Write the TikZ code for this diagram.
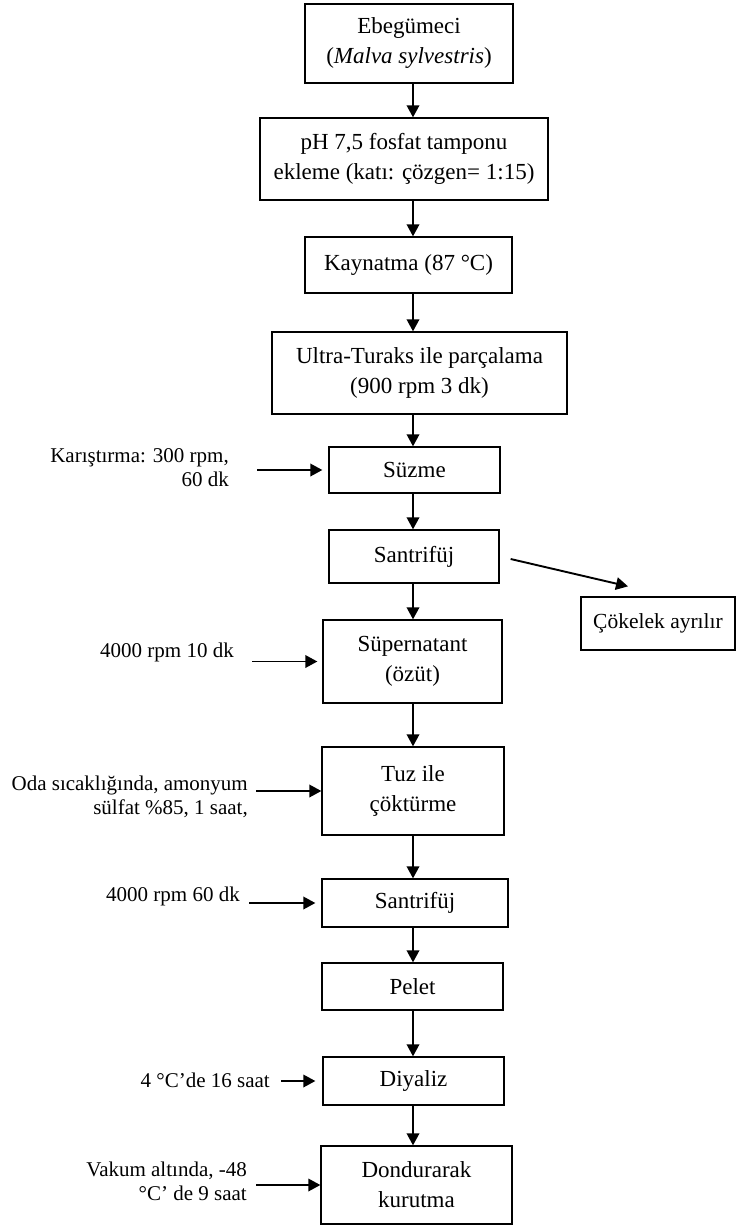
\documentclass[tikz,border=0pt]{standalone}
\usepackage{fontspec}
\setmainfont{Liberation Serif}
\usetikzlibrary{arrows.meta}
\begin{document}
\begin{tikzpicture}[x=1pt,y=-1pt,
  box/.style={draw,line width=1.3pt,align=center,inner sep=0pt,font=\fontsize{23}{30}\selectfont},
  lbl/.style={align=right,anchor=east,inner sep=0pt,font=\fontsize{21}{24}\selectfont},
  arr/.style={line width=1.9pt,-{Triangle[length=12pt,width=12.5pt]}}]
\useasboundingbox (0,0) rectangle (737,1225);

% main column boxes
\node[box,minimum width=208pt,minimum height=79pt] (ebe) at (409,43.5) {Ebegümeci\\(\textit{Malva sylvestris})};
\node[box,minimum width=288pt,minimum height=82pt] (ph) at (404,159) {pH 7,5 fosfat tamponu\\ekleme (katı: çözgen= 1:15)};
\node[box,minimum width=207pt,minimum height=56pt] (kay) at (408.5,265) {Kaynatma (87 °C)};
\node[box,minimum width=295pt,minimum height=82pt] (ultra) at (419.5,373) {Ultra-Turaks ile parçalama\\(900 rpm 3 dk)};
\node[box,minimum width=171pt,minimum height=46pt] (suz) at (414.5,470) {Süzme};
\node[box,minimum width=170pt,minimum height=53pt] (san1) at (414,556.5) {Santrifüj};
\node[box,minimum width=154pt,minimum height=53pt,font=\fontsize{21.5}{24}\selectfont] (cok) at (658,623.5) {Çökelek ayrılır};
\node[box,minimum width=179pt,minimum height=83pt] (sup) at (412.5,661.5) {Süpernatant\\(özüt)};
\node[box,minimum width=182pt,minimum height=88pt] (tuz) at (413,791) {Tuz ile\\çöktürme};
\node[box,minimum width=186pt,minimum height=48pt] (san2) at (415,903) {Santrifüj};
\node[box,minimum width=181pt,minimum height=47pt] (pel) at (412.5,986.5) {Pelet};
\node[box,minimum width=181pt,minimum height=48pt] (diy) at (413.5,1081) {Diyaliz};
\node[box,minimum width=191pt,minimum height=78pt] (don) at (416.5,1185) {Dondurarak\\kurutma};

% side labels
\node[lbl] (kar) at (229,468) {Karıştırma: 300 rpm,\\60 dk};
\node[lbl] (rpma) at (234,652) {4000 rpm 10 dk};
\node[lbl] (oda) at (248,796.5) {Oda sıcaklığında, amonyum\\sülfat \%85, 1 saat,};
\node[lbl] (rpmb) at (240,896) {4000 rpm 60 dk};
\node[lbl] (dort) at (270,1080) {4 °C’de 16 saat};
\node[lbl] (vak) at (247,1181.5) {Vakum altında, -48\\°C’ de 9 saat};

% main flow arrows
\coordinate (col) at (413,0);
\draw[arr] (col |- ebe.south) -- (col |- ph.north);
\draw[arr] (col |- ph.south) -- (col |- kay.north);
\draw[arr] (col |- kay.south) -- (col |- ultra.north);
\draw[arr] (col |- ultra.south) -- (col |- suz.north);
\draw[arr] (col |- suz.south) -- (col |- san1.north);
\draw[arr] (col |- san1.south) -- (col |- sup.north);
\draw[arr] (col |- sup.south) -- (col |- tuz.north);
\draw[arr] (col |- tuz.south) -- (col |- san2.north);
\draw[arr] (col |- san2.south) -- (col |- pel.north);
\draw[arr] (col |- pel.south) -- (col |- diy.north);
\draw[arr] (col |- diy.south) -- (col |- don.north);

% side arrows
\coordinate (kars) at (257,0);
\coordinate (rpmas) at (252,0);
\coordinate (odas) at (256,0);
\coordinate (rpmbs) at (249,0);
\coordinate (dorts) at (281,0);
\coordinate (vaks) at (256,0);
\draw[arr,shorten >=6pt] (kars |- suz.west) -- (suz.west);
\draw[arr,shorten >=5pt] (rpmas |- sup.west) -- (sup.west);
\draw[arr] (odas |- tuz.west) -- (tuz.west);
\draw[arr,shorten >=6pt] (rpmbs |- san2.west) -- (san2.west);
\draw[arr,shorten >=7pt] (dorts |- diy.west) -- (diy.west);
\draw[arr] (vaks |- don.west) -- (don.west);

% diagonal to precipitate
\draw[arr] ([shift={(11,2.5)}]san1.east) -- ([shift={(-30,-10)}]cok.north);
\end{tikzpicture}
\end{document}
